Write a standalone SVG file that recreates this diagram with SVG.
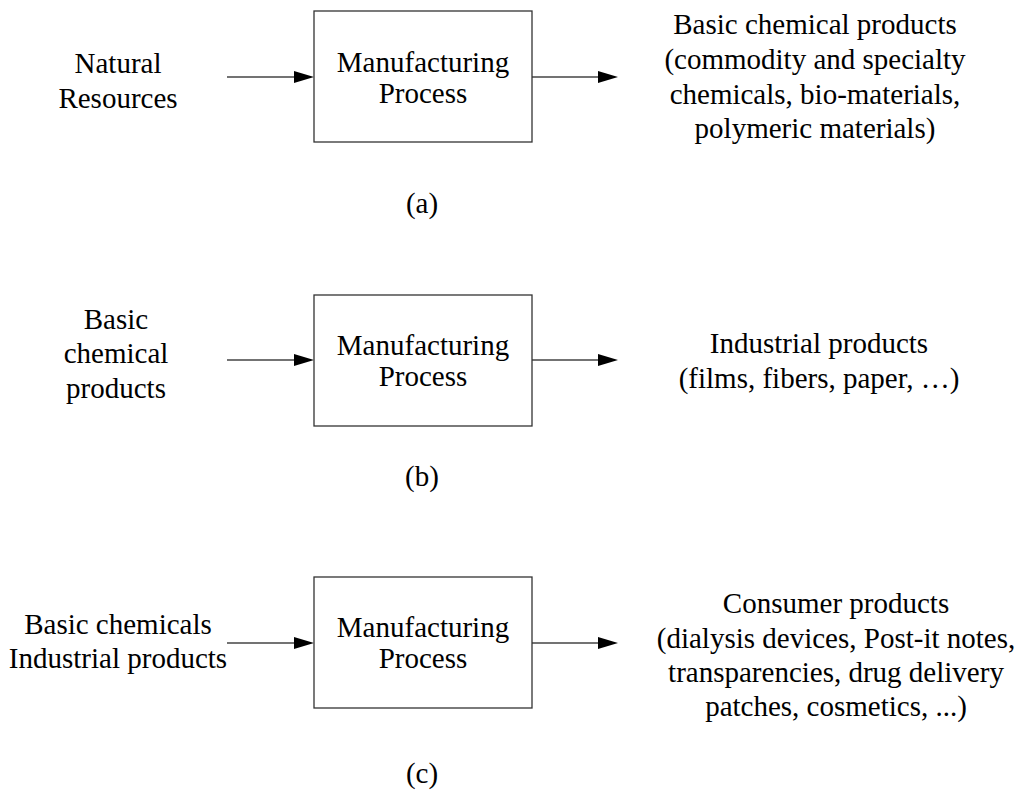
<svg xmlns="http://www.w3.org/2000/svg" width="1019" height="791" viewBox="0 0 1019 791">
<defs>
<style>
text{font-family:"Liberation Serif","Times New Roman",serif;font-size:29px;fill:#000;text-anchor:middle}
.box{fill:#fff;stroke:#333;stroke-width:1.3}
.ln{stroke:#444;stroke-width:1.4;fill:none}
.ah{fill:#000}
</style>
</defs>
<rect width="1019" height="791" fill="#fff"/>
<g id="connectors">
<line class="ln" x1="227" y1="77" x2="296" y2="77"/><polygon class="ah" points="314,77 294,71 294,83"/>
<line class="ln" x1="532" y1="77" x2="600" y2="77"/><polygon class="ah" points="618,77 598,71 598,83"/>
<line class="ln" x1="227" y1="360" x2="296" y2="360"/><polygon class="ah" points="314,360 294,354 294,366"/>
<line class="ln" x1="532" y1="360" x2="600" y2="360"/><polygon class="ah" points="618,360 598,354 598,366"/>
<line class="ln" x1="227" y1="643" x2="296" y2="643"/><polygon class="ah" points="314,643 294,637 294,649"/>
<line class="ln" x1="532" y1="643" x2="600" y2="643"/><polygon class="ah" points="618,643 598,637 598,649"/>
</g>
<g id="a-input"><text x="118" y="73">Natural</text><text x="118" y="108">Resources</text></g>
<g id="a-process"><rect class="box" x="314" y="11" width="218" height="131"/><text x="423" y="72">Manufacturing</text><text x="423" y="103">Process</text></g>
<g id="a-output"><text x="815" y="34">Basic chemical products</text><text x="815" y="69">(commodity and specialty</text><text x="815" y="104">chemicals, bio-materials,</text><text x="815" y="138">polymeric materials)</text></g>
<g id="a-label"><text x="422" y="213">(a)</text></g>
<g id="b-input"><text x="116" y="329">Basic</text><text x="116" y="363">chemical</text><text x="116" y="398">products</text></g>
<g id="b-process"><rect class="box" x="314" y="295" width="218" height="131"/><text x="423" y="355">Manufacturing</text><text x="423" y="386">Process</text></g>
<g id="b-output"><text x="819" y="353">Industrial products</text><text x="819" y="388">(films, fibers, paper, …)</text></g>
<g id="b-label"><text x="422" y="486">(b)</text></g>
<g id="c-input"><text x="118" y="634">Basic chemicals</text><text x="118" y="668">Industrial products</text></g>
<g id="c-process"><rect class="box" x="314" y="577" width="218" height="131"/><text x="423" y="637">Manufacturing</text><text x="423" y="668">Process</text></g>
<g id="c-output"><text x="836" y="613">Consumer products</text><text x="836" y="648">(dialysis devices, Post-it notes,</text><text x="836" y="682">transparencies, drug delivery</text><text x="836" y="716">patches, cosmetics, ...)</text></g>
<g id="c-label"><text x="422" y="783">(c)</text></g>
</svg>
